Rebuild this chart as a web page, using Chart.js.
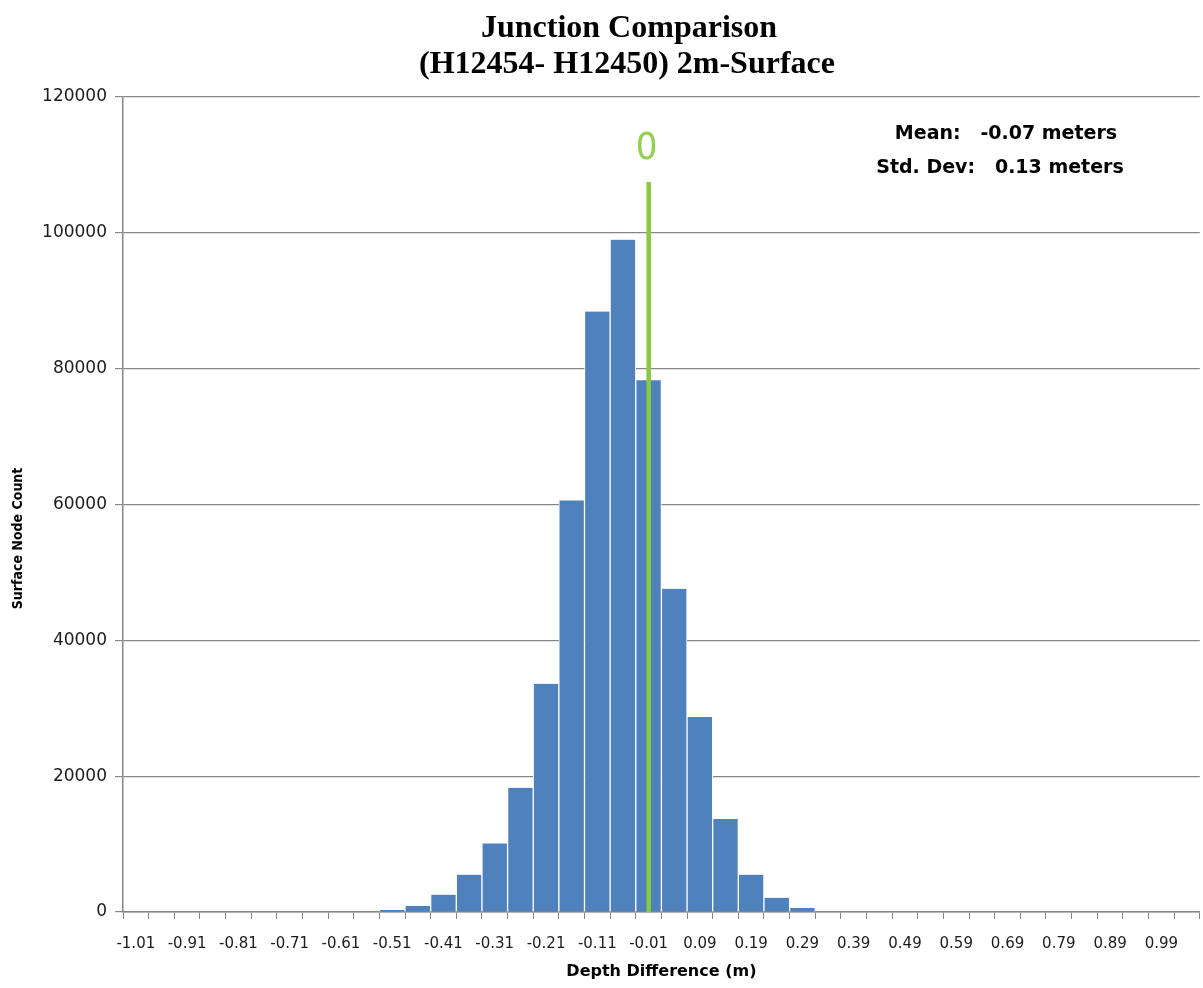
<!DOCTYPE html>
<html>
<head>
<meta charset="utf-8">
<title>Junction Comparison</title>
<script src="https://cdn.jsdelivr.net/npm/chart.js@4.4.1/dist/chart.umd.min.js"></script>
<style>
  html, body { margin: 0; padding: 0; background: #fff; overflow: hidden; }
  #wrap { width: 1203px; height: 988px; }
</style>
</head>
<body>
<div id="wrap"><canvas id="histChart" width="1203" height="988"></canvas></div>
<script>
// ── Data ──────────────────────────────────────────────────────────
const binLabels = [
  "-1.01", "-0.96", "-0.91", "-0.86", "-0.81", "-0.76", "-0.71", "-0.66",
  "-0.61", "-0.56", "-0.51", "-0.46", "-0.41", "-0.36", "-0.31", "-0.26",
  "-0.21", "-0.16", "-0.11", "-0.06", "-0.01", "0.04", "0.09", "0.14",
  "0.19", "0.24", "0.29", "0.34", "0.39", "0.44", "0.49", "0.54",
  "0.59", "0.64", "0.69", "0.74", "0.79", "0.84", "0.89", "0.94",
  "0.99", "1.04"
];
const nodeCounts = [
  0, 0, 0, 0, 0, 0, 0, 0,
  0, 0, 300, 880, 2550, 5500, 10100, 18300,
  33600, 60600, 88400, 99000, 78300, 47600, 28700, 13700,
  5500, 2100, 600, 0, 0, 0, 0, 0,
  0, 0, 0, 0, 0, 0, 0, 0,
  0, 0
];
const yMax  = 120000;
const yStep = 20000;

const titleLines = ["Junction Comparison", "(H12454- H12450) 2m-Surface"];
const statLines  = ["Mean:   -0.07 meters", "Std. Dev:   0.13 meters"];
const xTitle = "Depth Difference (m)";
const yTitle = "Surface Node Count";

// hand-drawn "0" marker on the depth axis
const zeroLineAt  = -0.016;
const zeroLineTop = 107500;
const zeroLabel   = "0";

// ── Colours ───────────────────────────────────────────────────────
const BAR_BLUE  = "#4f81bd";
const AXIS_GREY = "#868686";
const MARK_GRN  = "#8cc83f";
const TEXT      = "#1c1c1c";

// bin width in metres, used to frame the linear axis carrying the marker
const binStep = Number(binLabels[1]) - Number(binLabels[0]);

// ── Text overlays: title, stats box, y title, "0" label ──────────
const overlayPlugin = {
  id: "overlay",
  afterDraw(chart) {
    const { ctx, scales } = chart;
    ctx.save();

    // title (sits a little right of canvas centre in the source)
    ctx.fillStyle = "#000";
    ctx.textAlign = "center";
    ctx.textBaseline = "alphabetic";
    ctx.font = "bold 32px 'Liberation Serif', 'Times New Roman', serif";
    ctx.fillText(titleLines[0], 629, 37);
    ctx.fillText(titleLines[1], 627, 73);

    // stats
    ctx.font = "bold 19px 'DejaVu Sans', sans-serif";
    ctx.textBaseline = "middle";
    ctx.fillText(statLines[0], 1006, scales.y.getPixelForValue(114600));
    ctx.fillText(statLines[1], 1000, scales.y.getPixelForValue(109500));

    // y-axis title, drawn low of centre like the source
    ctx.save();
    ctx.translate(18, scales.y.getPixelForValue(55000));
    ctx.rotate(-Math.PI / 2);
    ctx.font = "bold 14px 'Liberation Sans Narrow', 'DejaVu Sans Condensed', sans-serif";
    ctx.fillText(yTitle, 0, 0);
    ctx.restore();

    // "0" above the marker line
    ctx.font = "38px 'Liberation Sans Narrow', 'DejaVu Sans Condensed', sans-serif";
    ctx.fillStyle = "#92d050";
    ctx.fillText(zeroLabel, scales.xz.getPixelForValue(zeroLineAt) - 2, scales.y.getPixelForValue(112300));

    ctx.restore();
  }
};

new Chart(document.getElementById("histChart"), {
  type: "bar",
  data: {
    labels: binLabels,
    datasets: [
      {
        type: "line",
        xAxisID: "xz",
        yAxisID: "y",
        data: [{ x: zeroLineAt, y: 0 }, { x: zeroLineAt, y: zeroLineTop }],
        borderColor: MARK_GRN,
        borderWidth: 4.5,
        pointRadius: 0,
        order: 0,
      },
      {
        type: "bar",
        xAxisID: "x",
        yAxisID: "y",
        data: nodeCounts,
        backgroundColor: BAR_BLUE,
        borderColor: "#ffffff",
        borderWidth: { left: 1, right: 1, top: 0, bottom: 0 },
        borderSkipped: "start",
        barPercentage: 1,
        categoryPercentage: 1,
        grouped: false,
        order: 1,
      }
    ]
  },
  options: {
    responsive: false,
    animation: false,
    devicePixelRatio: 1,
    layout: { padding: { top: 97, right: 0, bottom: 0, left: 0 } },
    plugins: {
      legend:  { display: false },
      tooltip: { enabled: false },
      title:   { display: false },
    },
    scales: {
      x: {
        type: "category",
        offset: true,
        grid: {
          offset: true,
          drawOnChartArea: false,
          drawTicks: true,
          tickLength: 7,
          color: AXIS_GREY,
        },
        border: { color: AXIS_GREY, width: 1.5 },
        ticks: {
          autoSkip: false,
          maxRotation: 0,
          minRotation: 0,
          padding: 16,
          color: TEXT,
          font: { family: "'DejaVu Sans', sans-serif", size: 15 },
          callback: (v, i) => (i % 2 === 0 ? binLabels[i] : ""),
        },
        title: {
          display: true,
          text: xTitle,
          color: "#000",
          font: { family: "'DejaVu Sans', sans-serif", size: 16, weight: "bold" },
          padding: { top: 4, bottom: 7 },
        },
        afterFit: s => { s.height = 76; },
      },
      xz: {
        type: "linear",
        display: false,
        min: Number(binLabels[0]) - binStep / 2,
        max: Number(binLabels[binLabels.length - 1]) + binStep / 2,
      },
      y: {
        min: 0,
        max: yMax,
        grid: { color: AXIS_GREY, lineWidth: 1.2, tickLength: 8 },
        border: { color: AXIS_GREY, width: 1.5 },
        ticks: {
          stepSize: yStep,
          padding: 8,
          color: TEXT,
          font: { family: "'DejaVu Sans', sans-serif", size: 17 },
          callback: v => String(v),
        },
        afterFit: s => { s.width = 123; },
      }
    }
  },
  plugins: [overlayPlugin]
});
</script>
</body>
</html>
